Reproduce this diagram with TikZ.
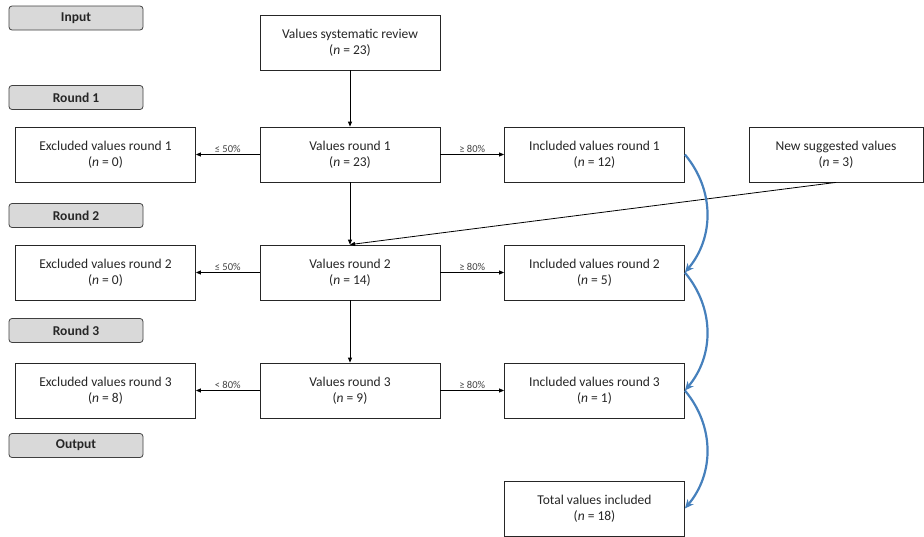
\documentclass[tikz,border=0pt]{standalone}
\usepackage{fontspec}
\setmainfont{Carlito}
\usepackage{tikz}
\usetikzlibrary{arrows.meta,positioning,calc}

\definecolor{flowblue}{RGB}{70,128,188}
\definecolor{stagegray}{RGB}{217,217,217}

\tikzset{
 valbox/.style={draw=black!85,line width=.8pt,fill=white,minimum width=180pt,minimum height=55pt,align=center,font=\fontsize{13.5}{16}\selectfont,text=black!85,inner sep=2pt},
 stagebox/.style={draw=black!75,line width=.8pt,fill=stagegray,rounded corners=3pt,minimum width=134pt,minimum height=24pt,font=\fontsize{13.5}{15}\selectfont\bfseries,text=black!85},
 flow/.style={-{Triangle[length=5pt,width=4pt]},line width=.8pt},
 pct/.style={font=\fontsize{10.5}{12}\selectfont,text=black!75,above,inner sep=1.5pt},
 carry/.style={-{Stealth[length=9pt,width=8pt]},draw=flowblue,line width=2.2pt}
}

\begin{document}
\begin{tikzpicture}[x=1pt,y=-1pt]
\useasboundingbox (0,0) rectangle (924,536);
% stages on the left
\foreach \y/\name/\txt in {18/sin/Input,97.5/sr1/Round 1,215.5/sr2/Round 2,330.5/sr3/Round 3,445.5/sout/Output}
 \node[stagebox] (\name) at (76,\y) {\txt};

\node[valbox] (sys) at (350,42.5) {Values systematic review\\(\textit{n} = 23)};

% one row per round
\foreach \r/\y/\nv/\ne/\ni/\lo in {1/154.5/23/0/12/{≤ 50\%},2/272.5/14/0/5/{≤ 50\%},3/390.5/9/8/1/{< 80\%}}{
 \node[valbox] (val\r) at (350,\y) {Values round \r\\(\textit{n} = \nv)};
 \node[valbox] (exc\r) at (105.5,\y) {Excluded values round \r\\(\textit{n} = \ne)};
 \node[valbox] (inc\r) at (594.5,\y) {Included values round \r\\(\textit{n} = \ni)};
 \draw[flow] (val\r) -- node[pct] {\lo} (exc\r);
 \draw[flow] (val\r) -- node[pct] {≥ 80\%} (inc\r);
}

\node[valbox,minimum width=174pt] (new) at (836,154.5) {New suggested values\\(\textit{n} = 3)};
\node[valbox] (tot) at (594.5,508.5) {Total values included\\(\textit{n} = 18)};

\draw[flow] (sys) -- (val1);
\draw[flow] (val1) -- (val2);
\draw[flow] (val2) -- (val3);
\draw[flow] (new.south) -- (val2.north);

% carried over included values
\draw[carry] (inc1.east) to[out=-50,in=50] (inc2.east);
\draw[carry] (inc2.east) to[out=-50,in=50] (inc3.east);
\draw[carry] (inc3.east) to[out=-50,in=50] (tot.east);
\end{tikzpicture}
\end{document}
